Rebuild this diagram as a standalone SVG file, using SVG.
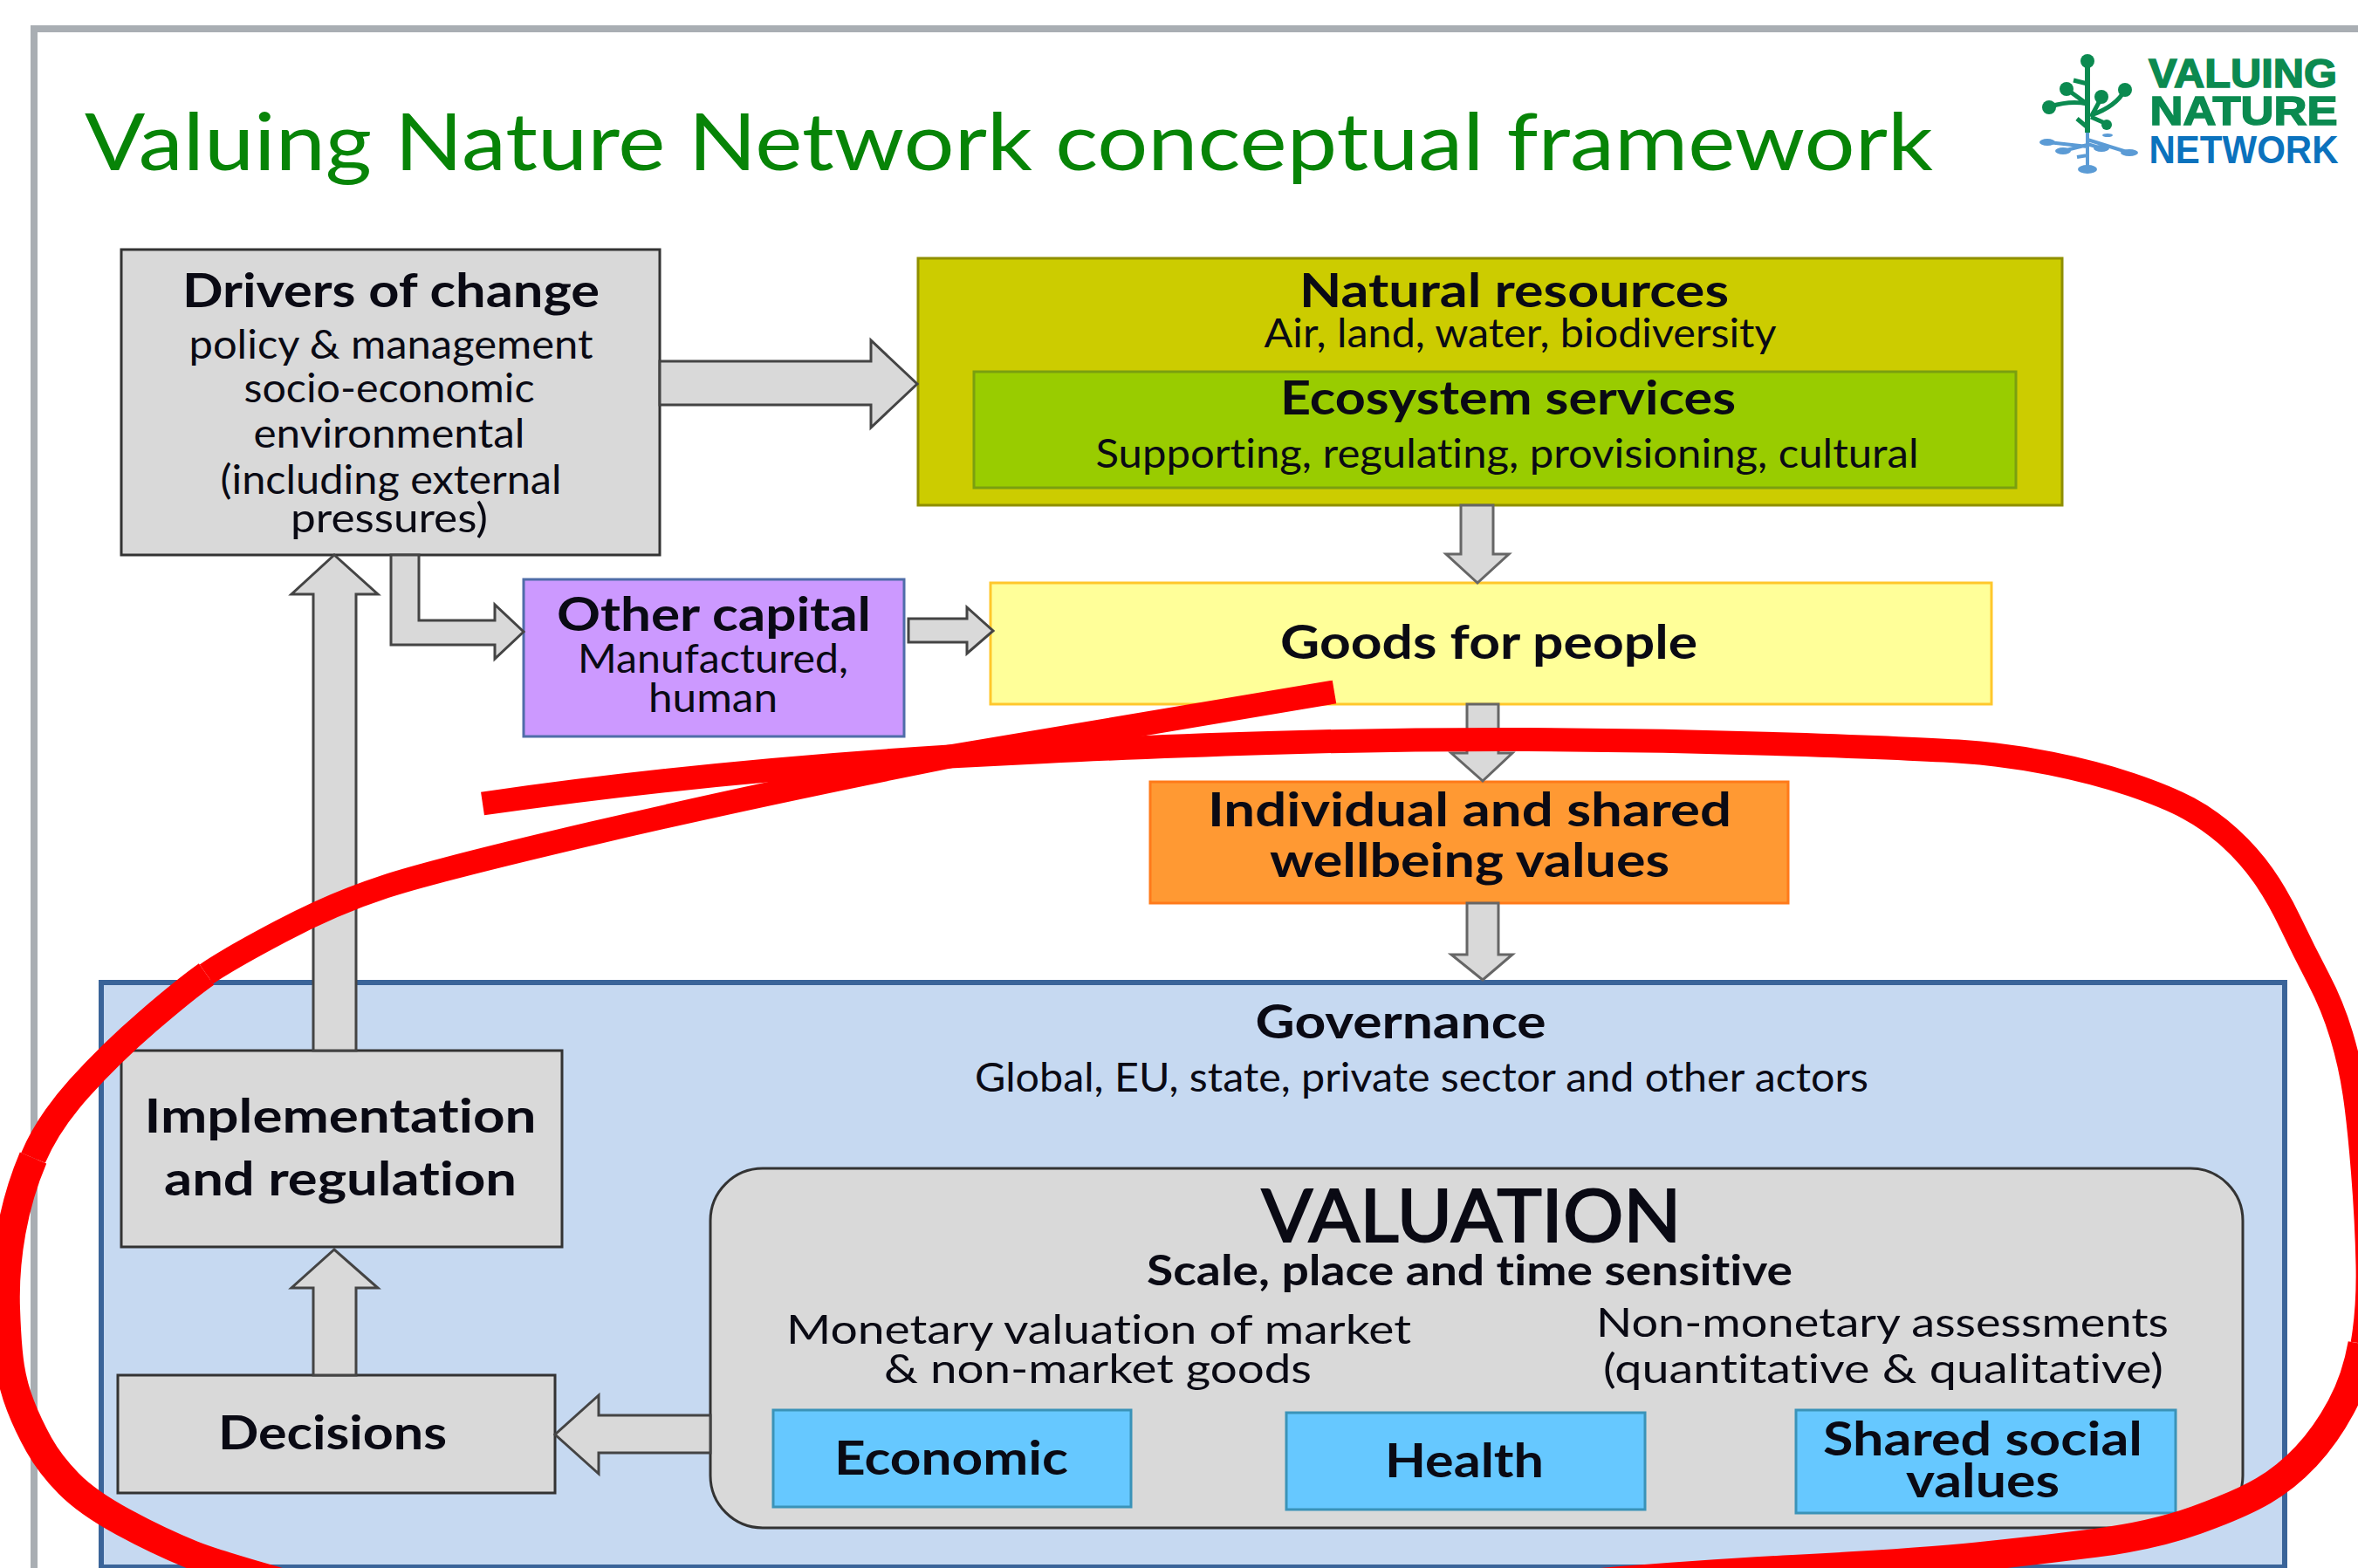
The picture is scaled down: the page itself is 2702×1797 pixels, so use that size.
<svg xmlns="http://www.w3.org/2000/svg" width="2702" height="1797" viewBox="0 0 2702 1797">
<style>
text{font-family:"Lato","Liberation Sans",sans-serif;fill:#0a0a14;text-anchor:middle;font-variant-ligatures:none}
.b{font-weight:700}
.h{font-size:54px;font-weight:700}
.s{font-size:46px}
.box{stroke:#333;stroke-width:3}
.g{fill:#d9d9d9}
.arrow{fill:#d9d9d9;stroke:#444;stroke-width:3;stroke-linejoin:miter}
.arrow2{fill:#d9d9d9;stroke:#666;stroke-width:3}
.blue{fill:#66c8ff;stroke:#3a93b8;stroke-width:3}
.red{fill:none;stroke:#ff0000;stroke-width:27;stroke-linejoin:round}
.red1{fill:none;stroke:#ff0000;stroke-width:30;stroke-linejoin:round}
.red2{fill:none;stroke:#ff0000;stroke-width:33;stroke-linejoin:round}
.lg{fill:#0b8a50}
.lb{fill:#5b9bd5}
.logo{font-size:46px;font-weight:700;font-family:"Liberation Sans",sans-serif}
</style>
<rect width="2702" height="1797" fill="#fff"/>
<path d="M39 1797V33H2702" fill="none" stroke="#a9aeb3" stroke-width="8"/>
<text id="title" x="1156" y="195" style="font-size:92px;fill:#078407" textLength="2118" lengthAdjust="spacingAndGlyphs">Valuing Nature Network conceptual framework</text>

<g id="logo">
<g stroke="#0b8a50" fill="none" stroke-width="5">
<path d="M2392 70V152" stroke-width="6"/>
<path d="M2350 122Q2372 115 2392 119M2368 102L2390 118M2435 103Q2425 122 2396 132M2408 112L2396 134M2396 134L2414 142M2376 92L2392 96M2380 136L2392 146"/>
</g>
<circle class="lg" cx="2392" cy="70" r="8"/><circle class="lg" cx="2348" cy="123" r="8"/><circle class="lg" cx="2368" cy="102" r="8"/><circle class="lg" cx="2408" cy="111" r="8"/><circle class="lg" cx="2435" cy="103" r="8"/><circle class="lg" cx="2414" cy="143" r="6"/>
<g stroke="#5b9bd5" fill="none" stroke-width="4"><path d="M2392 152V193M2347 163L2392 168M2364 173L2392 166M2392 160L2440 175M2408 170L2392 165M2380 180L2392 178"/></g>
<ellipse class="lb" cx="2346" cy="163" rx="9" ry="4"/><ellipse class="lb" cx="2364" cy="173" rx="9" ry="4"/><ellipse class="lb" cx="2408" cy="170" rx="9" ry="4"/><ellipse class="lb" cx="2440" cy="175" rx="10" ry="4"/><ellipse class="lb" cx="2392" cy="194" rx="11" ry="5"/><ellipse class="lb" cx="2415" cy="155" rx="6" ry="2"/>
<text class="logo" x="2570" y="100" style="fill:#0b8a50;stroke:#0b8a50;stroke-width:1.5" textLength="216" lengthAdjust="spacingAndGlyphs">VALUING</text>
<text class="logo" x="2571" y="143" style="fill:#0b8a50;stroke:#0b8a50;stroke-width:1.5" textLength="215" lengthAdjust="spacingAndGlyphs">NATURE</text>
<text class="logo" x="2571" y="187" style="font-size:44px;fill:#0b72bd" textLength="217" lengthAdjust="spacingAndGlyphs">NETWORK</text>
</g>

<g id="drivers">
<rect class="box g" x="139" y="286" width="617" height="350"/>
<text class="h" x="448" y="352" textLength="478" lengthAdjust="spacingAndGlyphs">Drivers of change</text>
<text class="s" x="448" y="411" textLength="463" lengthAdjust="spacingAndGlyphs">policy &amp; management</text>
<text class="s" x="446" y="461" textLength="333" lengthAdjust="spacingAndGlyphs">socio-economic</text>
<text class="s" x="446" y="513" textLength="311" lengthAdjust="spacingAndGlyphs">environmental</text>
<text class="s" x="448" y="566" textLength="391" lengthAdjust="spacingAndGlyphs">(including external</text>
<text class="s" x="446" y="610" textLength="226" lengthAdjust="spacingAndGlyphs">pressures)</text>
</g>

<g id="natural-resources">
<rect x="1052" y="296" width="1311" height="283" fill="#cccc00" stroke="#8f8f00" stroke-width="3"/>
<text class="h" x="1735" y="352" textLength="492" lengthAdjust="spacingAndGlyphs">Natural resources</text>
<text class="s" x="1742" y="398" textLength="587" lengthAdjust="spacingAndGlyphs">Air, land, water, biodiversity</text>
</g>
<g id="ecosystem-services">
<rect x="1116" y="426" width="1194" height="133" fill="#99cc00" stroke="#7a9f10" stroke-width="3"/>
<text class="h" x="1728" y="475" textLength="522" lengthAdjust="spacingAndGlyphs">Ecosystem services</text>
<text class="s" x="1727" y="536" textLength="943" lengthAdjust="spacingAndGlyphs">Supporting, regulating, provisioning, cultural</text>
</g>

<g id="other-capital">
<rect x="600" y="664" width="436" height="180" fill="#cc99ff" stroke="#4f6da8" stroke-width="3"/>
<text class="h" x="818" y="723" textLength="360" lengthAdjust="spacingAndGlyphs">Other capital</text>
<text class="s" x="817" y="771" textLength="310" lengthAdjust="spacingAndGlyphs">Manufactured,</text>
<text class="s" x="817" y="816" textLength="148" lengthAdjust="spacingAndGlyphs">human</text>
</g>

<g id="goods">
<rect x="1135" y="668" width="1147" height="139" fill="#ffff99" stroke="#ffc72c" stroke-width="3"/>
<text class="h" x="1706" y="755" textLength="478" lengthAdjust="spacingAndGlyphs">Goods for people</text>
</g>

<g id="wellbeing">
<rect x="1318" y="896" width="731" height="139" fill="#ff9933" stroke="#ff7a1a" stroke-width="3"/>
<text class="h" x="1684" y="947" textLength="600" lengthAdjust="spacingAndGlyphs">Individual and shared</text>
<text class="h" x="1684" y="1005" textLength="458" lengthAdjust="spacingAndGlyphs">wellbeing values</text>
</g>

<g id="governance">
<rect x="116" y="1126" width="2502" height="670" fill="#c6d9f1" stroke="#3a6499" stroke-width="6"/>
<text class="h" x="1605" y="1190" textLength="333" lengthAdjust="spacingAndGlyphs">Governance</text>
<text class="s" x="1629" y="1251" textLength="1024" lengthAdjust="spacingAndGlyphs">Global, EU, state, private sector and other actors</text>
</g>

<g id="implementation">
<rect class="box g" x="139" y="1204" width="505" height="225"/>
<text class="h" x="390" y="1298" textLength="449" lengthAdjust="spacingAndGlyphs">Implementation</text>
<text class="h" x="390" y="1370" textLength="404" lengthAdjust="spacingAndGlyphs">and regulation</text>
</g>

<g id="decisions">
<rect class="box g" x="135" y="1576" width="501" height="135"/>
<text class="h" x="381" y="1661" textLength="262" lengthAdjust="spacingAndGlyphs">Decisions</text>
</g>

<g id="valuation">
<rect class="box g" x="814" y="1339" width="1756" height="412" rx="60" ry="60"/>
<text x="1686" y="1423" style="font-size:84px;stroke:#0a0a14;stroke-width:2" textLength="481" lengthAdjust="spacingAndGlyphs">VALUATION</text>
<text class="b" x="1684" y="1473" style="font-size:48px" textLength="740" lengthAdjust="spacingAndGlyphs">Scale, place and time sensitive</text>
<text class="s" x="1259" y="1540" textLength="716" lengthAdjust="spacingAndGlyphs">Monetary valuation of market</text>
<text class="s" x="1258" y="1585" textLength="490" lengthAdjust="spacingAndGlyphs">&amp; non-market goods</text>
<text class="s" x="2157" y="1532" textLength="656" lengthAdjust="spacingAndGlyphs">Non-monetary assessments</text>
<text class="s" x="2158" y="1585" textLength="642" lengthAdjust="spacingAndGlyphs">(quantitative &amp; qualitative)</text>
</g>

<g id="economic">
<rect class="blue" x="886" y="1616" width="410" height="111"/>
<text class="h" x="1090" y="1690" textLength="268" lengthAdjust="spacingAndGlyphs">Economic</text>
</g>
<g id="health">
<rect class="blue" x="1474" y="1619" width="411" height="111"/>
<text class="h" x="1678" y="1693" textLength="182" lengthAdjust="spacingAndGlyphs">Health</text>
</g>
<g id="shared-social-values">
<rect class="blue" x="2058" y="1616" width="435" height="118"/>
<text class="h" x="2272" y="1668" textLength="366" lengthAdjust="spacingAndGlyphs">Shared social</text>
<text class="h" x="2272" y="1716" textLength="176" lengthAdjust="spacingAndGlyphs">values</text>
</g>

<g id="connectors">
<path class="arrow" d="M756 414H998V390L1051 440L998 490V464H756Z"/>
<path class="arrow" d="M448 636V739H567V755L600 724L567 693V711H480V636Z"/>
<path class="arrow" d="M359 1204V681H334L383 636L433 681H408V1204Z"/>
<path class="arrow" d="M1041 709H1108V696L1138 723L1108 749V736H1041Z"/>
<path class="arrow2" d="M1674 579V635H1657L1693 668L1729 635H1711V579Z"/>
<path class="arrow2" d="M1681 807V863H1663L1699 895L1733 863H1717V807Z"/>
<path class="arrow2" d="M1681 1035V1094H1663L1699 1123L1733 1094H1717V1035Z"/>
<path class="arrow" d="M359 1576V1476H334L383 1432L433 1476H408V1576Z"/>
<path class="arrow" d="M814 1622H686V1599L636 1644L686 1689V1665H814Z"/>
</g>

<g id="annotation">
<path class="red" d="M553 921Q800 885 1088 867L1197.5 861.5Q1307 856 1453.5 851.5Q1600 847 1750 847.5Q1900 848 2050 853Q2200 858 2250 861.5Q2300 865 2350 875Q2400 885 2441.5 899Q2483 913 2508 926.5Q2533 940 2555 960Q2577 980 2593.5 1003.5Q2610 1027 2625 1058.5Q2640 1090 2656.5 1121.5Q2673 1153 2683 1186.5Q2693 1220 2698 1253.5Q2703 1287 2707.5 1343.5Q2712 1400 2713 1450Q2714 1500 2707 1540"/>
<path class="red2" d="M2707 1540Q2700 1580 2682.5 1612.5Q2665 1645 2642.5 1669Q2620 1693 2593.5 1708.5Q2567 1724 2517 1742Q2467 1760 2400 1768.5Q2333 1777 2266.5 1784Q2200 1791 2055 1798.5Q1910 1806 1700 1825"/>
<path class="red" d="M1529 793L1088 867Q858 913 679 955Q500 997 441.5 1016Q383 1035 321.5 1067.5Q260 1100 236.5 1116.5"/>
<path class="red1" d="M236.5 1116.5Q213 1133 170 1170Q127 1207 91 1247Q55 1287 38 1327"/>
<path class="red2" d="M38 1327Q21 1367 13 1411.5Q5 1456 6.5 1500Q8 1544 11.5 1566.5Q15 1589 23.5 1611Q32 1633 44.5 1655.5Q57 1678 78.5 1700Q100 1722 141.5 1744.5Q183 1767 220.5 1782Q258 1797 400 1835"/>
</g>
</svg>
